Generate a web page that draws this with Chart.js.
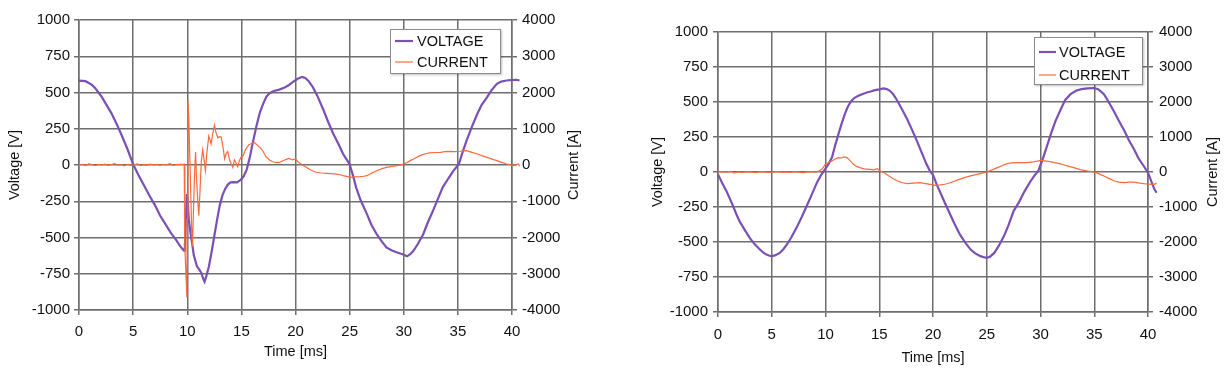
<!DOCTYPE html>
<html>
<head>
<meta charset="utf-8">
<script src="https://cdn.jsdelivr.net/npm/chart.js@4/dist/chart.umd.min.js"></script>
<style>
  html, body { margin: 0; padding: 0; background: #fff; }
  body { width: 1229px; height: 372px; position: relative; overflow: hidden; }
  .box { position: absolute; top: 0; height: 372px; }
</style>
</head>
<body>
<div class="box" style="left:0;width:600px"><canvas id="left" width="600" height="372"></canvas></div>
<div class="box" style="left:620px;width:609px"><canvas id="right" width="609" height="372"></canvas></div>
<script>
// left chart: fault transient
const leftVoltT = [0, 0.3, 0.6, 0.9, 1.2, 1.5, 1.8, 2.1, 2.5, 3.0, 3.5, 4.0, 4.5, 5.0, 5.5, 6.0, 6.5, 7.0, 7.5, 8.0, 8.5, 9.0, 9.3, 9.5, 9.7, 9.78, 9.88, 9.97, 10.05, 10.15, 10.3, 10.45, 10.6, 10.75, 10.9, 11.1, 11.3, 11.5, 11.6, 11.75, 12.0, 12.25, 12.5, 12.75, 13.0, 13.25, 13.5, 13.75, 14.0, 14.3, 14.6, 14.9, 15.2, 15.5, 15.8, 16.1, 16.4, 16.7, 17.0, 17.3, 17.6, 18.0, 18.5, 19.0, 19.4, 19.8, 20.2, 20.6, 20.9, 21.2, 21.6, 22.0, 22.6, 23.0, 23.5, 24.0, 24.4, 24.7, 25.0, 25.3, 25.6, 26.0, 26.6, 27.0, 27.5, 28.0, 28.4, 28.9, 29.4, 29.9, 30.3, 30.6, 30.9, 31.3, 31.8, 32.2, 32.7, 33.2, 33.6, 34.1, 34.6, 35.1, 35.4, 35.8, 36.3, 36.8, 37.2, 37.7, 38.1, 38.6, 39.0, 39.5, 39.9, 40.4, 40.7];
const leftVolt = [582, 580, 578, 566, 552, 530, 500, 470, 420, 356, 280, 195, 105, 5, -70, -140, -210, -275, -350, -410, -470, -520, -555, -575, -590, -560, -350, -200, -260, -380, -470, -540, -620, -660, -700, -720, -745, -790, -805, -770, -700, -600, -490, -380, -280, -210, -165, -135, -120, -118, -120, -105, -80, -30, 60, 170, 270, 360, 420, 470, 495, 510, 520, 535, 552, 575, 595, 608, 600, 580, 537, 480, 376, 300, 214, 140, 76, 40, 5, -70, -154, -240, -339, -410, -477, -530, -569, -590, -604, -615, -630, -615, -592, -545, -477, -400, -316, -225, -154, -95, -39, 7, 80, 168, 265, 353, 415, 468, 515, 560, 575, 583, 586, 588, 583];
const leftCurrT = [0, 0.3, 0.6, 0.9, 1.2, 1.5, 1.8, 2.1, 2.4, 2.7, 3.0, 3.3, 3.6, 3.9, 4.2, 4.5, 4.8, 5.1, 5.4, 5.7, 6.0, 6.3, 6.6, 6.9, 7.2, 7.5, 7.8, 8.1, 8.4, 8.7, 9.0, 9.3, 9.6, 9.72, 9.78, 9.88, 9.97, 9.99, 10.06, 10.15, 10.3, 10.4, 10.48, 10.58, 10.68, 10.77, 10.85, 10.95, 11.07, 11.18, 11.3, 11.43, 11.55, 11.68, 11.8, 11.99, 12.1, 12.2, 12.35, 12.52, 12.65, 12.83, 13.0, 13.14, 13.3, 13.45, 13.6, 13.74, 13.9, 14.05, 14.2, 14.36, 14.5, 14.66, 14.8, 14.94, 15.12, 15.4, 15.7, 16.0, 16.2, 16.5, 16.8, 17.0, 17.27, 17.6, 17.9, 18.2, 18.5, 18.8, 19.1, 19.4, 19.7, 20.0, 20.25, 20.6, 21.0, 21.4, 21.9, 22.4, 22.9, 23.3, 23.8, 24.1, 24.4, 24.8, 25.05, 25.5, 25.98, 26.3, 26.6, 27.0, 27.5, 28.0, 28.4, 28.9, 29.4, 30.0, 30.3, 30.6, 31.0, 31.5, 32.0, 32.4, 32.9, 33.4, 33.8, 34.3, 34.8, 35.2, 35.5, 35.8, 36.3, 36.8, 37.2, 37.7, 38.1, 38.6, 39.0, 39.5, 39.8, 40.15, 40.4, 40.6, 40.7];
const leftCurr = [0, 20, -15, 30, 10, -20, 15, 0, 25, -10, 15, 40, -5, 10, -25, 20, -10, 5, 30, -15, 10, -5, 25, 0, 15, -10, 20, 5, 35, -10, 10, 20, 15, 20, -2300, -3000, -3650, -1500, 1780, 1200, -500, -1700, -2250, -1200, -200, 360, -300, -900, -1400, -700, 100, 420, 150, -150, 300, 800, 700, 580, 850, 1100, 900, 750, 780, 770, 500, 170, 320, 370, 150, 40, -60, 140, 60, -50, 100, 210, 230, 440, 560, 600, 620, 540, 460, 380, 230, 140, 90, 70, 70, 110, 150, 180, 140, 165, 80, 10, -65, -140, -200, -220, -230, -240, -250, -270, -295, -320, -340, -330, -323, -310, -295, -230, -157, -100, -65, -40, -18, 28, 70, 120, 180, 258, 310, 332, 345, 350, 370, 378, 370, 380, 390, 396, 350, 304, 260, 212, 170, 120, 80, 28, 10, -18, 10, 28, -37];

// right chart: normal operation
const rightVoltT = [0, 0.4, 0.78, 1.1, 1.4, 1.7, 2.0, 2.5, 2.95, 3.4, 3.9, 4.2, 4.5, 4.8, 5.0, 5.3, 5.75, 6.1, 6.4, 6.8, 7.3, 7.8, 8.25, 8.7, 9.2, 9.6, 9.95, 10.3, 10.6, 10.9, 11.2, 11.5, 11.8, 12.1, 12.4, 12.7, 13.06, 13.4, 13.84, 14.2, 14.6, 15.0, 15.4, 15.7, 16.0, 16.3, 16.6, 17.1, 17.6, 18.0, 18.5, 19.0, 19.4, 19.7, 20.0, 20.35, 20.7, 21.1, 21.6, 22.0, 22.5, 23.0, 23.5, 23.9, 24.4, 24.7, 25.0, 25.3, 25.7, 26.1, 26.6, 27.0, 27.5, 28.0, 28.5, 29.0, 29.4, 29.8, 30.2, 30.6, 31.0, 31.4, 31.9, 32.3, 32.8, 33.3, 33.8, 34.4, 35.0, 35.4, 35.9, 36.3, 36.8, 37.3, 37.8, 38.2, 38.7, 39.1, 39.6, 40.0, 40.3, 40.6, 40.8];
const rightVolt = [-17, -80, -136, -190, -243, -300, -351, -415, -470, -515, -554, -575, -590, -598, -601, -596, -578, -550, -518, -470, -399, -320, -243, -165, -76, -20, 19, 60, 103, 190, 270, 345, 413, 470, 508, 530, 544, 556, 568, 575, 585, 590, 597, 592, 580, 555, 520, 450, 377, 310, 222, 130, 55, 10, -20, -90, -150, -220, -303, -370, -446, -505, -554, -580, -601, -608, -613, -605, -578, -530, -458, -385, -279, -215, -140, -75, -30, 10, 90, 185, 280, 365, 450, 515, 556, 580, 592, 597, 600, 590, 556, 505, 437, 365, 294, 230, 162, 100, 43, -5, -65, -124, -148];
const rightCurrT = [0, 0.4, 0.8, 1.2, 1.5, 1.9, 2.3, 2.7, 3.1, 3.5, 3.9, 4.3, 4.7, 5.1, 5.5, 5.9, 6.3, 6.7, 7.1, 7.5, 7.9, 8.3, 8.7, 9.1, 9.4, 9.7, 9.95, 10.2, 10.6, 10.9, 11.2, 11.5, 11.7, 12.0, 12.3, 12.6, 12.9, 13.2, 13.6, 14.15, 14.5, 14.8, 15.1, 15.5, 15.9, 16.3, 16.7, 17.1, 17.6, 18.2, 18.8, 19.3, 19.75, 20.2, 20.7, 21.1, 21.6, 22.2, 22.9, 23.5, 24.1, 24.6, 25.0, 25.5, 25.99, 26.4, 26.9, 27.3, 27.8, 28.3, 28.7, 29.3, 29.7, 30.0, 30.4, 30.9, 31.3, 31.8, 32.4, 33.1, 33.7, 34.4, 34.8, 35.2, 35.5, 35.9, 36.4, 36.9, 37.3, 37.8, 38.2, 38.7, 39.1, 39.6, 40.1, 40.6, 40.8];
const rightCurr = [0, 10, -5, 15, -25, 5, -10, 10, 0, -15, 10, 5, -10, 0, 10, -5, 5, -10, 10, 0, -15, 5, 10, 0, 30, 90, 200, 260, 315, 370, 410, 400, 430, 410, 320, 220, 160, 124, 90, 76, 60, 95, 29, -30, -115, -190, -258, -300, -334, -320, -306, -330, -353, -380, -370, -350, -306, -240, -162, -110, -67, -30, 0, 60, 124, 180, 239, 260, 267, 270, 267, 290, 310, 334, 320, 296, 270, 239, 180, 124, 70, 29, 10, -19, -60, -115, -190, -258, -290, -306, -290, -287, -310, -334, -345, -353, -315];

const voltTicks = [-1000, 1000, 250];
const currTicks = [-4000, 4000, 1000];
const timeTicks = [0, 40, 5];

const VOLT_COLOR = '#7b50b4';
const CURR_COLOR = '#fa6a3c';
const GRID_COLOR = '#6e6e6e';
const FONT = "Arial, 'Liberation Sans', sans-serif";

function pts(t, v) {
  return t.map((x, i) => ({ x: x, y: v[i] }));
}

// legend box drawn inside the plot, like the excel one
const boxLegend = {
  id: 'boxLegend',
  afterDraw(chart, args, o) {
    const ctx = chart.ctx;
    ctx.save();
    ctx.shadowColor = 'rgba(0,0,0,0.25)';
    ctx.shadowOffsetX = 1;
    ctx.shadowOffsetY = 1;
    ctx.shadowBlur = 2;
    ctx.fillStyle = '#fff';
    ctx.fillRect(o.x, o.y, o.w, o.h);
    ctx.shadowColor = 'transparent';
    ctx.strokeStyle = '#8c8c8c';
    ctx.lineWidth = 1;
    ctx.strokeRect(o.x + 0.5, o.y + 0.5, o.w - 1, o.h - 1);
    ctx.font = '14.5px ' + FONT;
    ctx.textBaseline = 'middle';
    ctx.fillStyle = '#111';
    chart.data.datasets.forEach((ds, i) => {
      const y = o.rows[i];
      ctx.strokeStyle = ds.borderColor;
      ctx.lineWidth = ds.borderWidth;
      ctx.beginPath();
      ctx.moveTo(o.s0, y);
      ctx.lineTo(o.s1, y);
      ctx.stroke();
      ctx.fillText(ds.label, o.tx, y + 1);
    });
    ctx.restore();
  }
};

// right axis title reads bottom to top in the reference
const sideTitle = {
  id: 'sideTitle',
  afterDraw(chart, args, o) {
    const ctx = chart.ctx;
    const a = chart.chartArea;
    ctx.save();
    ctx.translate(o.x, (a.top + a.bottom) / 2);
    ctx.rotate(-Math.PI / 2);
    ctx.font = '14.5px ' + FONT;
    ctx.fillStyle = '#111';
    ctx.textAlign = 'center';
    ctx.textBaseline = 'middle';
    ctx.fillText(o.text, 0, 0);
    ctx.restore();
  }
};

function makeChart(id, c) {
  const tickFont = { family: FONT, size: 15 };
  const grid = { color: GRID_COLOR, lineWidth: 1.5, tickLength: 5, tickColor: GRID_COLOR };
  const border = { color: GRID_COLOR, width: 1.5 };
  return new Chart(document.getElementById(id), {
    type: 'line',
    data: {
      datasets: [
        { label: 'VOLTAGE', data: pts(c.vt, c.v), yAxisID: 'y', borderColor: VOLT_COLOR,
          borderWidth: 2.2, pointRadius: 0, tension: 0, clip: false, order: 2 },
        { label: 'CURRENT', data: pts(c.ct, c.c), yAxisID: 'y2', borderColor: CURR_COLOR,
          borderWidth: 1.2, pointRadius: 0, tension: 0, clip: false, order: 1 }
      ]
    },
    options: {
      responsive: false,
      animation: false,
      layout: { padding: { top: c.top, left: 0, right: 0, bottom: 0 } },
      plugins: {
        legend: { display: false },
        tooltip: { enabled: false },
        boxLegend: c.legend,
        sideTitle: c.side
      },
      scales: {
        x: {
          type: 'linear',
          // range set after data limits so the trace can run a bit past 40 like the scope export
          afterDataLimits: s => { s.min = timeTicks[0]; s.max = timeTicks[1]; },
          ticks: { stepSize: timeTicks[2], font: tickFont, color: '#111', padding: c.xPad, maxRotation: 0 },
          grid: grid, border: border,
          title: { display: true, text: 'Time [ms]', color: '#111', font: { family: FONT, size: 14.5 },
                   padding: { top: 0, bottom: c.xTitlePad } },
          afterFit: s => { s.height = c.bottom; }
        },
        y: {
          position: 'left', min: voltTicks[0], max: voltTicks[1],
          ticks: { stepSize: voltTicks[2], font: tickFont, color: '#111', padding: c.yPad, callback: v => String(v) },
          grid: grid, border: border,
          title: { display: true, text: 'Voltage [V]', color: '#111', font: { family: FONT, size: 14.5 },
                   padding: { top: c.yTitlePad, bottom: 0 } },
          afterFit: s => { s.width = c.leftW; }
        },
        y2: {
          position: 'right', min: currTicks[0], max: currTicks[1],
          ticks: { stepSize: currTicks[2], font: tickFont, color: '#111', padding: c.y2Pad, callback: v => String(v) },
          grid: { drawOnChartArea: false, tickLength: 5, color: GRID_COLOR, lineWidth: 1.5 },
          border: border,
          afterFit: s => { s.width = c.rightW; }
        }
      }
    },
    plugins: [boxLegend, sideTitle]
  });
}

makeChart('left', {
  vt: leftVoltT, v: leftVolt, ct: leftCurrT, c: leftCurr,
  top: 20, bottom: 62, leftW: 79, rightW: 88,
  xPad: 8, xTitlePad: 11, yPad: 4, yTitlePad: 6, y2Pad: 5,
  legend: { x: 390, y: 29, w: 111, h: 45, s0: 395, s1: 413, tx: 417, rows: [41, 62] },
  side: { x: 574, text: 'Current [A]' }
});

makeChart('right', {
  vt: rightVoltT, v: rightVolt, ct: rightCurrT, c: rightCurr,
  top: 32, bottom: 60, leftW: 98, rightW: 81,
  xPad: 9, xTitlePad: 5, yPad: 5, yTitlePad: 29, y2Pad: 6,
  legend: { x: 414, y: 37, w: 109, h: 48, s0: 419, s1: 436, tx: 439, rows: [52, 75] },
  side: { x: 593, text: 'Current [A]' }
});
</script>
</body>
</html>
